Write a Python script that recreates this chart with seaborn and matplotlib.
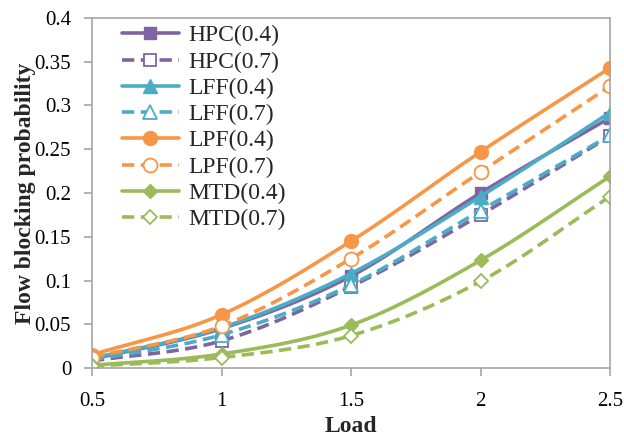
import numpy as np
import pandas as pd
import seaborn as sns
import matplotlib
matplotlib.use("Agg")
import matplotlib.pyplot as plt

# Offered load (x axis)
load = [0.5, 1.0, 1.5, 2.0, 2.5]

# Flow blocking probability per algorithm and parameter
hpc_04 = [0.010, 0.045, 0.105, 0.200, 0.286]
hpc_07 = [0.008, 0.031, 0.093, 0.175, 0.265]
lff_04 = [0.011, 0.046, 0.108, 0.196, 0.292]
lff_07 = [0.009, 0.038, 0.095, 0.180, 0.266]
lpf_04 = [0.015, 0.061, 0.145, 0.247, 0.343]
lpf_07 = [0.012, 0.048, 0.125, 0.224, 0.322]
mtd_04 = [0.003, 0.016, 0.049, 0.123, 0.219]
mtd_07 = [0.002, 0.012, 0.037, 0.099, 0.196]

labels = ["HPC(0.4)", "HPC(0.7)", "LFF(0.4)", "LFF(0.7)",
          "LPF(0.4)", "LPF(0.7)", "MTD(0.4)", "MTD(0.7)"]
series = [hpc_04, hpc_07, lff_04, lff_07, lpf_04, lpf_07, mtd_04, mtd_07]

purple, teal, orange, green = "#8064A2", "#4BACC6", "#F79646", "#9BBB59"
colors = [purple, purple, teal, teal, orange, orange, green, green]
markers = ["s", "s", "^", "^", "o", "o", "D", "D"]
msizes = [9, 9, 9.5, 9.5, 10, 10, 7.5, 7.5]
filled = [True, False] * 4
dashed = [False, True] * 4

SUB = 24  # samples per segment of the smoothed path


def smooth_path(x, y, n=SUB):
    """Catmull-Rom path through the points; the points sit at every n-th sample."""
    x = np.asarray(x, float)
    y = np.asarray(y, float)
    px = np.concatenate([[2 * x[0] - x[1]], x, [2 * x[-1] - x[-2]]])
    py = np.concatenate([[2 * y[0] - y[1]], y, [2 * y[-1] - y[-2]]])
    t = np.linspace(0, 1, n, endpoint=False)
    xs, ys = [], []
    for i in range(1, len(px) - 2):
        for p, out in ((px, xs), (py, ys)):
            p0, p1, p2, p3 = p[i - 1], p[i], p[i + 1], p[i + 2]
            out.extend(0.5 * (2 * p1 + (-p0 + p2) * t
                              + (2 * p0 - 5 * p1 + 4 * p2 - p3) * t ** 2
                              + (-p0 + 3 * p1 - 3 * p2 + p3) * t ** 3))
    xs.append(x[-1])
    ys.append(y[-1])
    return np.array(xs), np.array(ys)


sns.set_theme(style="white")
plt.rcParams["font.family"] = ["Liberation Serif", "DejaVu Serif"]

fig = plt.figure(figsize=(6.24, 4.38), dpi=100)
ax = fig.add_axes([92 / 624, 1 - 368 / 438, 518 / 624, 350 / 438])

for lab, vals, c, m, ms, f, d in zip(labels, series, colors, markers, msizes, filled, dashed):
    sx, sy = smooth_path(load, vals)
    df = pd.DataFrame({"Load": sx, "p": sy})
    sns.lineplot(data=df, x="Load", y="p", ax=ax, label=lab, color=c,
                 linewidth=2.6, linestyle=(0, (3.4, 1.8)) if d else "-",
                 marker=m, markersize=ms, markevery=SUB,
                 markerfacecolor=c if f else "white",
                 markeredgecolor=c, markeredgewidth=1.3 if not f else 1,
                 sort=False, estimator=None)

ax.set_xlim(0.5, 2.5)
ax.set_ylim(0, 0.4)
ax.set_xticks([0.5, 1, 1.5, 2, 2.5])
ax.set_xticklabels(["0.5", "1", "1.5", "2", "2.5"])
ax.set_yticks(np.arange(0, 0.41, 0.05))
ax.set_yticklabels(["0", "0.05", "0.1", "0.15", "0.2", "0.25", "0.3", "0.35", "0.4"])

for s in ax.spines.values():
    s.set_color("#a6a6a6")
    s.set_linewidth(1.2)

ax.tick_params(axis="both", which="major", direction="out", length=6, width=1.2,
               color="#a6a6a6", labelsize=15, labelcolor="black",
               bottom=True, left=True)
ax.tick_params(axis="y", pad=9)
ax.tick_params(axis="x", pad=11)

ax.set_xlabel("Load", fontsize=17, fontweight="bold", labelpad=4)
ax.set_ylabel("Flow blocking probability", fontsize=17, fontweight="bold", labelpad=-1)

leg = ax.legend(loc="upper left", bbox_to_anchor=(0.058, 0.98), frameon=False,
                fontsize=17, handlelength=2.4, handletextpad=0.42,
                labelspacing=0.2, borderpad=0, borderaxespad=0)

fig.savefig("out.png", dpi=100)
